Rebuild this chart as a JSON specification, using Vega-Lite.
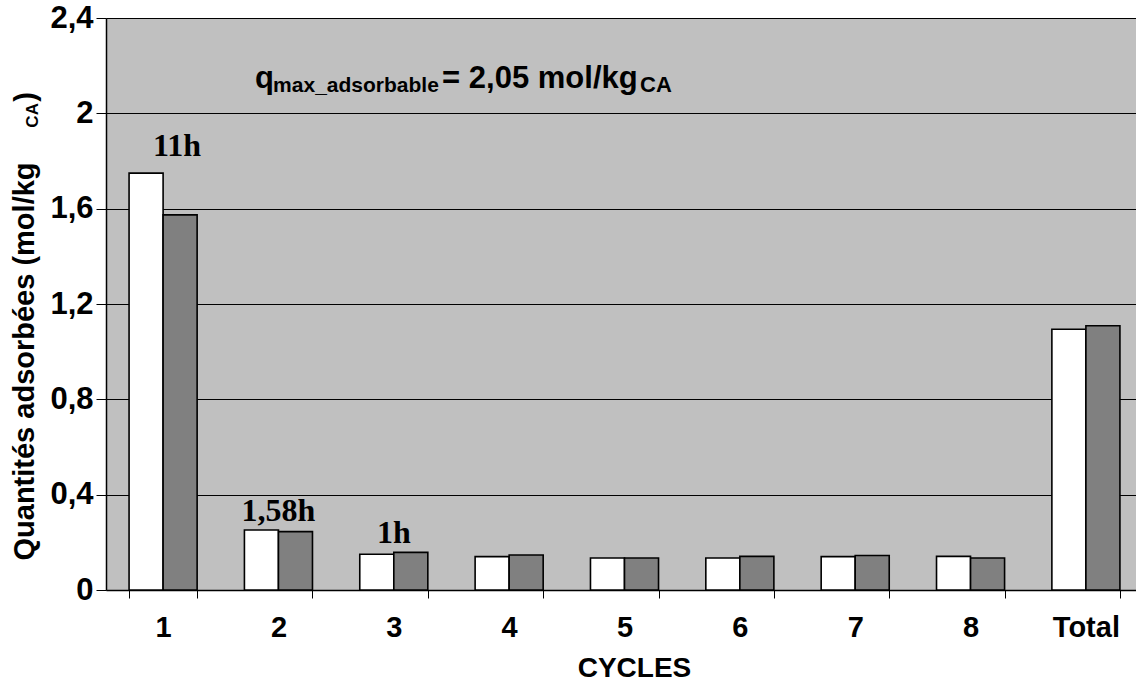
{
  "$schema": "https://vega.github.io/schema/vega-lite/v6.json",
  "width": 1030,
  "height": 572,
  "autosize": {"type": "none"},
  "padding": {"left": 106, "top": 18, "right": 0, "bottom": 98},
  "background": "white",
  "config": {
    "view": {"fill": "#C0C0C0", "stroke": null},
    "font": "Liberation Sans"
  },
  "datasets": {
    "bars": [
      {"cycle": "1", "serie": "A", "q": 1.749},
      {"cycle": "1", "serie": "B", "q": 1.574},
      {"cycle": "2", "serie": "A", "q": 0.252},
      {"cycle": "2", "serie": "B", "q": 0.245},
      {"cycle": "3", "serie": "A", "q": 0.150},
      {"cycle": "3", "serie": "B", "q": 0.158},
      {"cycle": "4", "serie": "A", "q": 0.140},
      {"cycle": "4", "serie": "B", "q": 0.147},
      {"cycle": "5", "serie": "A", "q": 0.134},
      {"cycle": "5", "serie": "B", "q": 0.134},
      {"cycle": "6", "serie": "A", "q": 0.134},
      {"cycle": "6", "serie": "B", "q": 0.141},
      {"cycle": "7", "serie": "A", "q": 0.140},
      {"cycle": "7", "serie": "B", "q": 0.145},
      {"cycle": "8", "serie": "A", "q": 0.141},
      {"cycle": "8", "serie": "B", "q": 0.134},
      {"cycle": "Total", "serie": "A", "q": 1.094},
      {"cycle": "Total", "serie": "B", "q": 1.109}
    ],
    "hours1": [
      {"cycle": "1", "label": "11h", "q": 1.749}
    ],
    "hours2": [
      {"cycle": "2", "label": "1,58h", "q": 0.252},
      {"cycle": "3", "label": "1h", "q": 0.158}
    ],
    "one": [{"k": 1}]
  },
  "layer": [
    {
      "data": {"name": "bars"},
      "mark": {"type": "bar", "stroke": "black", "strokeWidth": 1.6},
      "encoding": {
        "x": {
          "field": "cycle",
          "type": "nominal",
          "scale": {
            "domain": ["1", "2", "3", "4", "5", "6", "7", "8", "Total"],
            "range": [0, 1037],
            "paddingInner": 0.41,
            "paddingOuter": 0.2
          },
          "axis": {
            "title": "CYCLES",
            "titleFontSize": 28,
            "titleFontWeight": "bold",
            "titleColor": "black",
            "titlePadding": 12,
            "titleX": 528,
            "labelFontSize": 29,
            "labelFontWeight": "bold",
            "labelColor": "black",
            "labelAngle": 0,
            "labelPadding": 15,
            "tickBand": "extent",
            "tickSize": 8,
            "tickColor": "black",
            "domainColor": "black",
            "domainWidth": 1.5,
            "grid": false
          }
        },
        "xOffset": {"field": "serie", "type": "nominal", "sort": ["A", "B"]},
        "y": {
          "field": "q",
          "type": "quantitative",
          "scale": {"domain": [0, 2.4], "nice": false, "zero": true},
          "axis": {
            "values": [0, 0.4, 0.8, 1.2, 1.6, 2, 2.4],
            "labelExpr": "replace(format(datum.value, '~g'), '.', ',')",
            "grid": true,
            "gridColor": "black",
            "gridWidth": 1,
            "domainColor": "black",
            "domainWidth": 1.5,
            "tickColor": "black",
            "tickSize": 10,
            "labelFontSize": 31,
            "labelFontWeight": "bold",
            "labelColor": "black",
            "labelPadding": 3,
            "title": "Quantités adsorbées (mol/kg",
            "titleFontSize": 29,
            "titleFontWeight": "bold",
            "titleColor": "black",
            "titleAnchor": "start",
            "titleY": 542,
            "titleX": -73,
            "titleBaseline": "alphabetic"
          }
        },
        "fill": {
          "field": "serie",
          "type": "nominal",
          "scale": {"domain": ["A", "B"], "range": ["#FFFFFF", "#808080"]},
          "legend": null
        }
      }
    },
    {
      "data": {"name": "hours1"},
      "mark": {"type": "text", "font": "Liberation Serif", "fontWeight": "bold", "fontSize": 32, "baseline": "alphabetic", "align": "center", "dx": 14, "dy": -17, "color": "black"},
      "encoding": {
        "x": {"field": "cycle", "type": "nominal"},
        "y": {"field": "q", "type": "quantitative"},
        "text": {"field": "label"}
      }
    },
    {
      "data": {"name": "hours2"},
      "mark": {"type": "text", "font": "Liberation Serif", "fontWeight": "bold", "fontSize": 32, "baseline": "alphabetic", "align": "center", "dy": -9, "color": "black"},
      "encoding": {
        "x": {"field": "cycle", "type": "nominal"},
        "y": {"field": "q", "type": "quantitative"},
        "text": {"field": "label"}
      }
    },
    {
      "data": {"name": "one"},
      "mark": {"type": "text", "text": "q", "fontWeight": "bold", "fontSize": 31, "align": "left", "baseline": "alphabetic", "dx": 92, "color": "black"},
      "encoding": {"x": {"datum": "1", "type": "nominal"}, "y": {"datum": 2.107, "type": "quantitative"}}
    },
    {
      "data": {"name": "one"},
      "mark": {"type": "text", "text": "max_adsorbable", "fontWeight": "bold", "fontSize": 21, "align": "left", "baseline": "alphabetic", "dx": 110, "color": "black"},
      "encoding": {"x": {"datum": "1", "type": "nominal"}, "y": {"datum": 2.09, "type": "quantitative"}}
    },
    {
      "data": {"name": "one"},
      "mark": {"type": "text", "text": "= 2,05 mol/kg", "fontWeight": "bold", "fontSize": 31, "align": "left", "baseline": "alphabetic", "dx": 279, "color": "black"},
      "encoding": {"x": {"datum": "1", "type": "nominal"}, "y": {"datum": 2.107, "type": "quantitative"}}
    },
    {
      "data": {"name": "one"},
      "mark": {"type": "text", "text": "CA", "fontWeight": "bold", "fontSize": 22, "align": "left", "baseline": "alphabetic", "dx": 477, "color": "black"},
      "encoding": {"x": {"datum": "1", "type": "nominal"}, "y": {"datum": 2.09, "type": "quantitative"}}
    },
    {
      "data": {"name": "one"},
      "mark": {"type": "text", "text": "CA", "fontWeight": "bold", "fontSize": 17, "align": "left", "baseline": "alphabetic", "angle": 270, "dy": -125, "color": "black"},
      "encoding": {"x": {"datum": "1", "type": "nominal"}, "y": {"datum": 1.94, "type": "quantitative"}}
    },
    {
      "data": {"name": "one"},
      "mark": {"type": "text", "text": ")", "fontWeight": "bold", "fontSize": 29, "align": "left", "baseline": "alphabetic", "angle": 270, "dy": -128, "color": "black"},
      "encoding": {"x": {"datum": "1", "type": "nominal"}, "y": {"datum": 2.049, "type": "quantitative"}}
    }
  ]
}
